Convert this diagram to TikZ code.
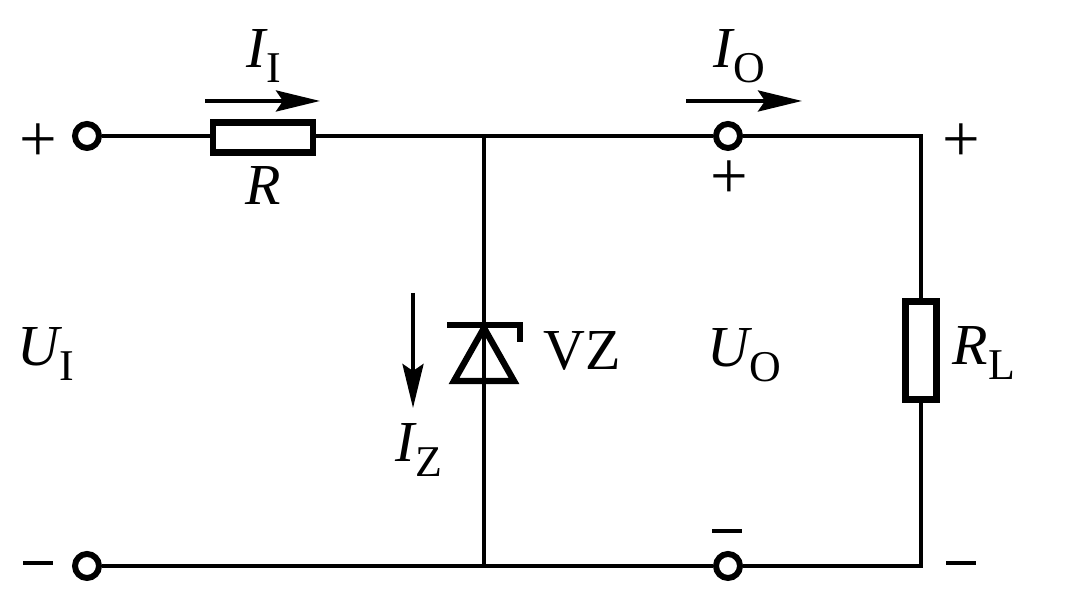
\documentclass[tikz,border=0pt]{standalone}
\usepackage{fontspec}
\setmainfont{Liberation Serif}
\usetikzlibrary{arrows.meta}
\newcommand{\qty}[2]{{\itshape #1}\raisebox{-0.55ex}{\fontsize{12.5}{12.5}\selectfont #2}}
\tikzset{
    wire/.style={line width=1.15pt},
    terminal/.style={circle, draw, line width=1.7pt, fill=white, inner sep=0pt, minimum size=2.4mm},
    resbox/.style={rectangle, draw, line width=1.8pt, fill=white, inner sep=0pt},
    flow/.style={line width=1.15pt, -{Stealth[length=4.4mm, width=2.1mm, inset=0.7mm]}},
    lbl/.style={font=\fontsize{16.5}{16.5}\selectfont, inner sep=0pt, anchor=base west},
    sign/.style={font=\fontsize{19}{19}\selectfont, inner sep=0pt}
}
\begin{document}
\begin{tikzpicture}
    \useasboundingbox (0,0) rectangle (10.8,5.9);
    % Wire corners and junctions
    \coordinate (topj) at (4.84,4.54);
    \coordinate (botj) at (4.84,0.24);
    \coordinate (topr) at (9.21,4.54);
    \coordinate (botr) at (9.21,0.24);
    \coordinate (zcat) at (4.84,2.65);
    \coordinate (zan) at (4.84,2.09);
    % Terminals and resistors
    \node[terminal] (intop) at (0.87,4.54) {};
    \node[terminal] (inbot) at (0.87,0.24) {};
    \node[terminal] (outtop) at (7.28,4.54) {};
    \node[terminal] (outbot) at (7.28,0.24) {};
    \node[resbox, minimum width=10mm, minimum height=3mm] (rser) at (2.63,4.525) {};
    \node[resbox, minimum width=3.1mm, minimum height=9.8mm] (rload) at (9.21,2.395) {};
    % Wires
    \draw[wire] (intop) -- (intop -| rser.west);
    \draw[wire] (topj -| rser.east) -- (topj) -- (outtop);
    \draw[wire] (outtop) -- (topr) -- (rload);
    \draw[wire] (rload) -- (botr) -- (outbot) -- (botj) -- (inbot);
    \draw[wire] (topj) -- (zcat);
    \draw[wire] (zan) -- (botj);
    % Zener diode
    \draw[line width=1.8pt] (4.47,2.65) -- (5.20,2.65) -- (5.20,2.48);
    \draw[line width=1.8pt, line join=miter] (4.84,2.62) -- (5.14,2.09) -- (4.54,2.09) -- cycle;
    \draw[wire] (zcat) -- (zan);
    % Current arrows
    \coordinate (iia) at (2.05,4.89);
    \coordinate (iib) at (3.20,4.89);
    \coordinate (ioa) at (6.86,4.89);
    \coordinate (iob) at (8.02,4.89);
    \coordinate (iza) at (4.13,2.97);
    \coordinate (izb) at (4.13,1.82);
    \draw[flow] (iia) -- (iib);
    \draw[flow] (ioa) -- (iob);
    \draw[flow] (iza) -- (izb);
    % Labels
    \node[lbl] (lii) at (2.46,5.22) {\qty{I}{I}};
    \node[lbl] (lr) at (2.45,3.85) {\textit{R}};
    \node[lbl] (lio) at (7.13,5.22) {\qty{I}{O}};
    \node[lbl] (liz) at (3.95,1.28) {\qty{I}{Z}};
    \node[lbl] (lui) at (0.17,2.24) {\qty{U}{I}};
    \node[lbl] (luo) at (7.07,2.23) {\qty{U}{O}};
    \node[lbl] (lvz) at (5.43,2.20) {VZ};
    \node[lbl] (lrl) at (9.52,2.25) {\qty{R}{L}};
    % Polarity signs
    \node[sign] (pa) at (0.38,4.47) {+};
    \node[sign] (pb) at (0.38,0.27) {\rule{0.30cm}{1.1pt}};
    \node[sign] (pc) at (7.29,4.10) {+};
    \node[sign] (pd) at (7.27,0.59) {\rule{0.30cm}{1.1pt}};
    \node[sign] (pe) at (9.61,4.47) {+};
    \node[sign] (pf) at (9.61,0.27) {\rule{0.30cm}{1.1pt}};
\end{tikzpicture}
\end{document}
